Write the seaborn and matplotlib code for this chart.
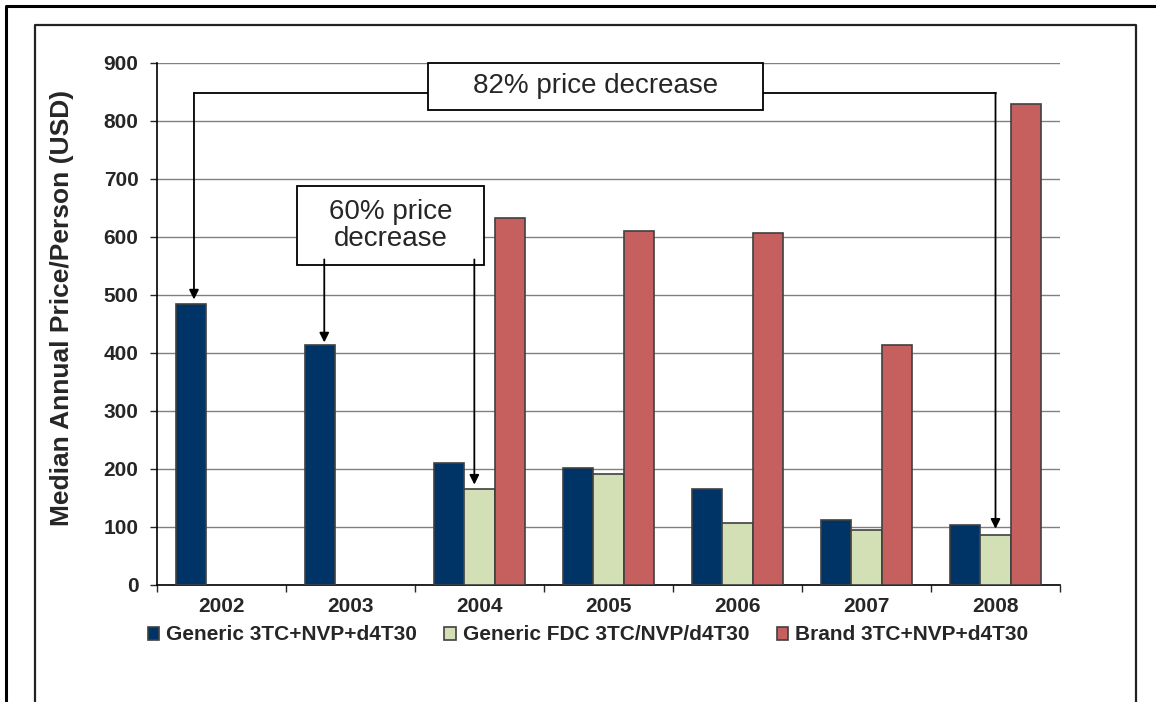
#! /usr/bin/env python3

import numpy as np
import pandas as pd
import matplotlib.pyplot as plt
from matplotlib.lines import Line2D
from matplotlib.patches import Rectangle
import seaborn as sns

YEARS = ['2002', '2003', '2004', '2005', '2006', '2007', '2008']
SERIES = ['Generic 3TC+NVP+d4T30', 'Generic FDC 3TC/NVP/d4T30', 'Brand 3TC+NVP+d4T30']
GENERIC = [484, 413, 210, 202, 166, 112, 104]
GENERIC_FDC = [np.nan, np.nan, 165, 191, 106, 95, 87]
BRAND = [np.nan, np.nan, 632, 610, 607, 413, 829]
COLORS = ['#003366', '#D3E0B6', '#C6605E']


def build_frame() -> pd.DataFrame:
    rows = []
    for name, values in zip(SERIES, [GENERIC, GENERIC_FDC, BRAND]):
        for year, v in zip(YEARS, values):
            rows.append({'year': year, 'series': name, 'price': v})
    return pd.DataFrame(rows).dropna()


def bar_x(year_idx: int, series_idx: int, width: float = 0.7) -> float:
    # centre of a dodged bar inside its year group
    return year_idx + (series_idx - 1) * width / 3


if __name__ == '__main__':
    sns.set_style('white')
    plt.rcParams['font.family'] = ['Liberation Sans', 'DejaVu Sans']

    data = build_frame()

    fig = plt.figure(figsize=(11.56, 7.02), dpi=100)
    ax = fig.add_axes([157 / 1156, 1 - 585 / 702, 903 / 1156, 522.3 / 702])

    sns.barplot(data=data, x='year', y='price', hue='series', order=YEARS,
                hue_order=SERIES, palette=COLORS, width=0.7, saturation=1,
                edgecolor='#404040', linewidth=1.2, errorbar=None,
                legend=True, ax=ax, zorder=3)

    ax.set_xlim(-0.5, 6.5)
    ax.set_ylim(0, 900)
    ax.set_yticks(range(0, 901, 100))
    ax.yaxis.grid(True, color='#808080', linewidth=1)
    ax.set_axisbelow(True)
    for side in ['top', 'right']:
        ax.spines[side].set_visible(False)
    for side in ['left', 'bottom']:
        ax.spines[side].set_color('black')
        ax.spines[side].set_linewidth(1.2)

    ax.tick_params(axis='y', direction='out', length=5, width=1, pad=8.4,
                   labelsize=15, left=True)
    ax.tick_params(axis='x', which='major', length=0, pad=9, labelsize=15)
    ax.set_xticks(np.arange(-0.5, 6.6, 1), minor=True)
    ax.tick_params(axis='x', which='minor', direction='out', length=5, width=1,
                   bottom=True)
    for lab in ax.get_xticklabels() + ax.get_yticklabels():
        lab.set_fontweight('bold')

    ax.set_xlabel('')
    ax.set_ylabel('Median Annual Price/Person (USD)', fontsize=19,
                  fontweight='bold')
    ax.yaxis.set_label_coords(-0.092, 0.53)

    # legend below the axis
    handles, labels = ax.get_legend_handles_labels()
    ax.legend_.remove()
    fig.legend(handles, labels, loc='center', ncol=3,
               bbox_to_anchor=(588 / 1156, 1 - 635 / 702), frameon=False,
               prop={'size': 15, 'weight': 'bold'}, handlelength=0.55,
               handleheight=0.6, handletextpad=0.35, columnspacing=1.3)

    arrow = dict(arrowstyle='-|>', color='black', lw=1.3, mutation_scale=14,
                 shrinkA=0, shrinkB=0)

    # 82% bracket: 2002 generic -> 2008 generic FDC
    y_line = 848
    x_left = bar_x(0, 0) + 0.02
    x_right = bar_x(6, 1)
    box_l, box_r = 1.6, 4.2
    ax.plot([x_left, box_l], [y_line, y_line], color='black', lw=1.3,
            zorder=4, clip_on=False)
    ax.plot([box_r, x_right], [y_line, y_line], color='black', lw=1.3,
            zorder=4, clip_on=False)
    ax.annotate('', xy=(x_left, GENERIC[0] + 8), xytext=(x_left, y_line),
                arrowprops=arrow, zorder=4)
    ax.annotate('', xy=(x_right, GENERIC_FDC[6] + 10), xytext=(x_right, y_line),
                arrowprops=arrow, zorder=4)
    ax.add_patch(Rectangle((box_l, 819), box_r - box_l, 80, facecolor='white',
                           edgecolor='black', lw=1.3, zorder=5, clip_on=False))
    ax.text((box_l + box_r) / 2, 859, '82% price decrease', ha='center',
            va='center', fontsize=20, zorder=6)

    # 60% box: 2003 generic -> 2004 generic FDC
    ax.add_patch(Rectangle((0.588, 552), 1.447, 136, facecolor='white',
                           edgecolor='black', lw=1.3, zorder=5))
    ax.text(1.31, 620, '60% price\ndecrease', ha='center', va='center',
            fontsize=20, linespacing=1.05, zorder=6)
    ax.annotate('', xy=(bar_x(1, 0) + 0.03, GENERIC[1] + 5),
                xytext=(bar_x(1, 0) + 0.03, 561), arrowprops=arrow, zorder=6)
    ax.annotate('', xy=(bar_x(2, 1) - 0.04, GENERIC_FDC[2] + 8),
                xytext=(bar_x(2, 1) - 0.04, 561), arrowprops=arrow, zorder=6)

    # the two slide frames around the chart
    def frame(x0, y0, x1, y1):
        px = [x0 / 1156, x0 / 1156, x1 / 1156]
        py = [1 - y1 / 702, 1 - y0 / 702, 1 - y0 / 702]
        return px, py

    px, py = frame(6, 6, 1160, 710)
    fig.add_artist(Line2D(px, py, color='black', lw=2.2))
    px, py = frame(35, 25, 1136, 710)
    fig.add_artist(Line2D(px + [1136 / 1156], py + [0], color='#222222', lw=1.6))

    fig.savefig('out.png', dpi=100)
